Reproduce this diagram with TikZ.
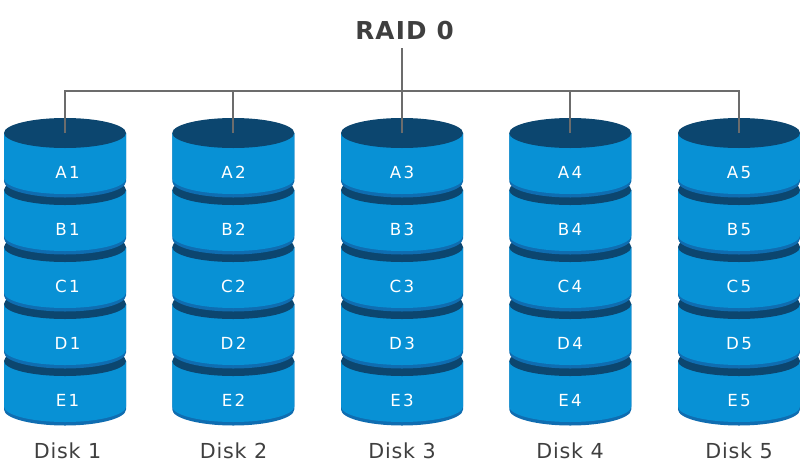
\documentclass[tikz,border=0pt]{standalone}
\usepackage{fontspec}
\setmainfont{DejaVu Sans}
\newfontfamily\titlefont[LetterSpace=5]{DejaVu Sans Bold}
\newfontfamily\diskfont[LetterSpace=4]{DejaVu Sans}
\newfontfamily\cellfont[LetterSpace=14]{DejaVu Sans}
\definecolor{cellblue}{HTML}{0891D5}
\definecolor{rimblue}{HTML}{0F6DB1}
\definecolor{capblue}{HTML}{0C466F}
\definecolor{linkgray}{HTML}{6C6C6C}
\definecolor{textgray}{HTML}{3F3F3F}
\tikzset{
  link/.style={draw=linkgray,line width=1.5pt},
  celltext/.style={inner sep=0pt,text=white,font=\cellfont\fontsize{12.5}{14}\selectfont},
  disktext/.style={inner sep=0pt,text=textgray,font=\diskfont\fontsize{15.5}{18}\selectfont},
  titletext/.style={inner sep=0pt,minimum height=25.5pt,text=textgray,font=\titlefont\fontsize{18.5}{22}\selectfont},
}
\begin{document}
\begin{tikzpicture}[x=0.75pt,y=0.75pt,yscale=-1,xscale=1]
\useasboundingbox (0,0) rectangle (800,475);

%Cylinders, lowest first so the upper ones overlap
\foreach \col/\cx/\tx in {1/65/67.5,2/233.25/233.5,3/402/402,4/570.25/570,5/739/739}{
  \foreach \row/\cy in {E/361,D/304,C/247,B/190,A/133}{
    \fill[rimblue] (\cx-61,\cy) -- (\cx-61,\cy+48.5) arc[start angle=180,end angle=0,x radius=61,y radius=16] -- (\cx+61,\cy) -- cycle;
    \fill[cellblue] (\cx-61,\cy) -- (\cx-61,\cy+45.5) arc[start angle=180,end angle=0,x radius=61,y radius=15.5] -- (\cx+61,\cy) -- cycle;
    \fill[capblue] (\cx,\cy) ellipse[x radius=61,y radius=15];
    \node[celltext] (\row\col) at (\tx,\cy+39.5) {\row\col};
  }
  \coordinate (top\col) at (\cx,133);
  \node[disktext] (disk\col) at (\tx,451) {Disk \col};
}

% Text Node
\node[titletext] (title) at (404.5,31) {RAID 0};
\coordinate (bus) at (402,91);

%Straight Lines
\draw[link] (top1) |- (bus) -| (top5);
\draw[link] (top2) -- (top2|-bus);
\draw[link] (top4) -- (top4|-bus);
\draw[link] (top3) -- (top3|-title.south);

\end{tikzpicture}
\end{document}
